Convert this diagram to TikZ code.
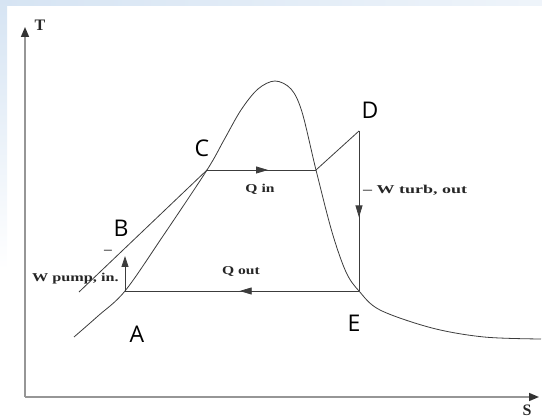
\documentclass[tikz,border=0pt]{standalone}
\usepackage{fontspec}
\usepackage{graphicx}
\setmainfont{Liberation Serif}
\newfontfamily\ptfont{Open Sans}
\usetikzlibrary{arrows.meta, decorations.markings}
\definecolor{bgblue}{RGB}{214,228,243}
\definecolor{axisgray}{RGB}{150,150,150}
\definecolor{inkgray}{RGB}{60,60,60}
\newcommand{\widetext}[2][1.3]{\scalebox{#1}[1]{\bfseries #2}}

\begin{document}
\begin{tikzpicture}[
  x=1pt, y=-1pt,
  every node/.style={inner sep=0pt, text=black!85},
  axis/.style={draw=axisgray, line width=1.6pt, -{Triangle[length=10pt, width=8pt, color=black!80]}},
  cycleline/.style={draw=inkgray, line width=0.8pt},
  midarrow/.style={postaction={decorate}, decoration={markings,
    mark=at position #1 with {\arrow{Triangle[length=12pt, width=7pt]}}}},
  ptlabel/.style={font=\ptfont\fontsize{23}{23}\selectfont, text=black},
  qlabel/.style={font=\fontsize{12}{12}\selectfont},
  axlabel/.style={font=\bfseries\fontsize{16}{16}\selectfont}
]
  % background strips
  \shade[left color=bgblue, right color=bgblue!40!white] (0,0) rectangle (542,6);
  \shade[top color=bgblue, bottom color=white] (0,0) rectangle (7,270);
  \useasboundingbox (0,0) rectangle (542,419);

  % axes
  \coordinate (O) at (25,397);
  \coordinate (Ttip) at (25,27);
  \coordinate (Stip) at (539,397);
  \draw[axis] (O) -- (Ttip);
  \draw[axis] (O) -- (Stip);
  \node[axlabel] (T) at (40,25) {T};
  \node[axlabel] (S) at (527,410) {S};

  % state points
  \coordinate (A) at (125,291);
  \coordinate (B) at (125,256);
  \coordinate (C) at (207,170);
  \coordinate (Cv) at (316,170);
  \coordinate (D) at (359,131);
  \coordinate (E) at (359,291);
  \coordinate (Bl) at (79,292);

  % saturation dome
  \draw[cycleline] plot[smooth, tension=0.55] coordinates {
    (74,337) (98,316) (A) (163,236) (C) (224,140) (241,110) (258,89)
    (275,81) (291,89) (302,112) (Cv) (332,232) (346,272) (E)
    (380,310) (432,328) (484,337) (541,339)};

  % compressed liquid line
  \draw[cycleline] (Bl) -- (C);

  % cycle
  \draw[cycleline, midarrow=0.56] (C) -- (Cv);
  \draw[cycleline] (Cv) -- (D);
  \draw[cycleline, midarrow=0.54] (D) -- (E);
  \draw[cycleline, midarrow=0.51] (E) -- (A);
  \draw[cycleline, -{Triangle[length=11pt, width=7pt]}] (A) -- (B);

  % labels
  \node[ptlabel] (lA) at (137,334) {A};
  \node[ptlabel] (lB) at (121,228) {B};
  \node[ptlabel] (lC) at (202,148) {C};
  \node[ptlabel] (lD) at (370,110) {D};
  \node[ptlabel] (lE) at (354,323) {E};
  \node[qlabel] (qin) at (260,189) {\widetext{Q in}};
  \node[qlabel] (qout) at (241,272) {\widetext{Q out}};
  \node[qlabel, anchor=west] (wturb) at (363,190) {\widetext[1.5]{-- W turb, out}};
  \node[qlabel, anchor=west] (wpump) at (32,279) {\widetext[1.35]{W pump, in.}};
  \node[qlabel] (dash) at (108,252) {\widetext{--}};
\end{tikzpicture}
\end{document}
